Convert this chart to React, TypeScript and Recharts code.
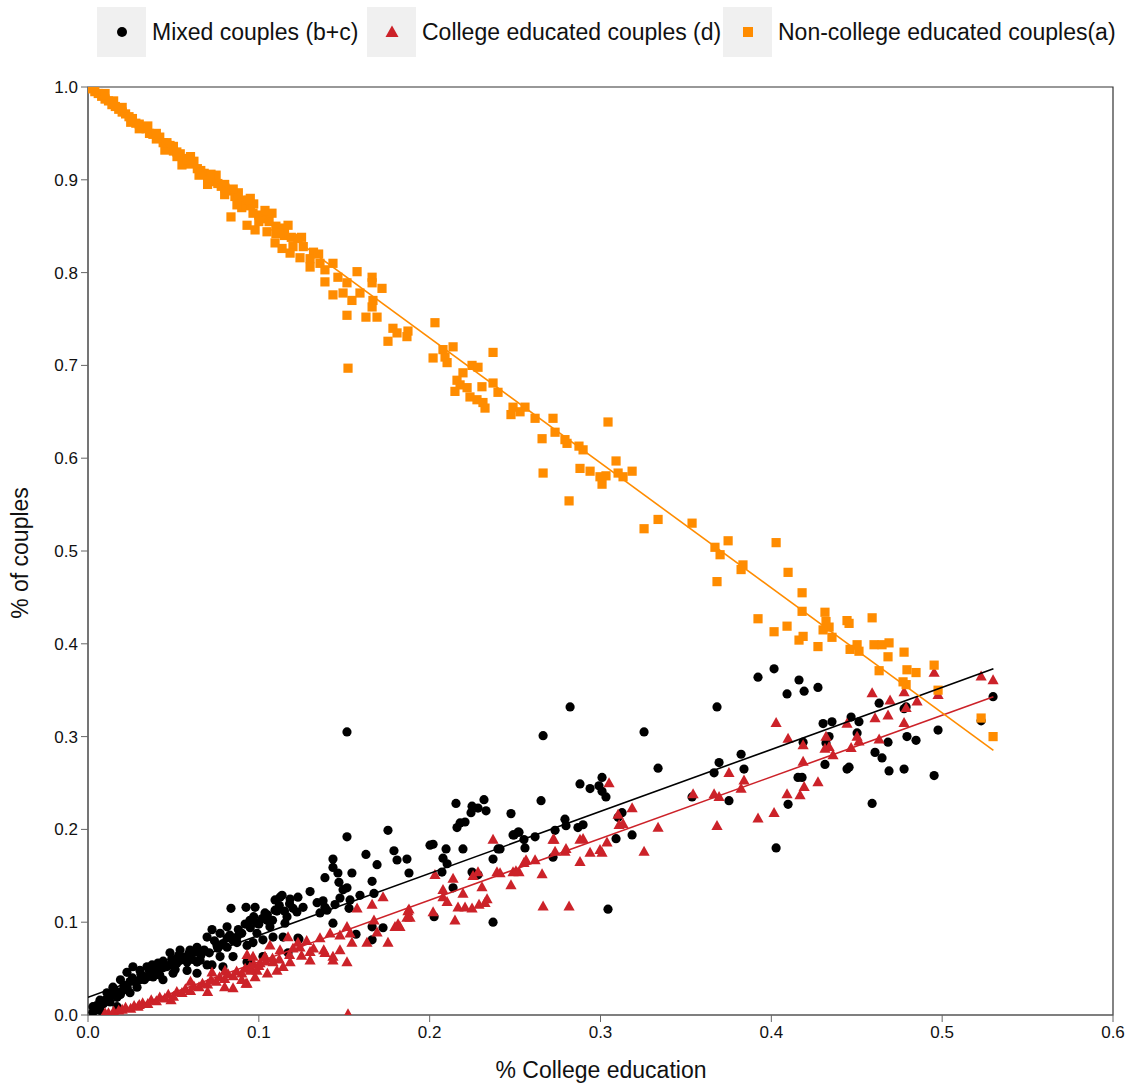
import React from "react";
import {
  ComposedChart,
  Scatter,
  XAxis,
  YAxis,
  ReferenceArea,
} from "recharts";

// share of college educated people vs share of couples by type
const nonCollegePts: [number, number][] = [
  [0.002, 0.998], [0.004, 0.995], [0.006, 0.993], [0.008, 0.99], [0.01, 0.987], [0.012, 0.985],
  [0.014, 0.981], [0.016, 0.979], [0.018, 0.976], [0.02, 0.973], [0.022, 0.971], [0.024, 0.968],
  [0.026, 0.966], [0.028, 0.961], [0.03, 0.96], [0.032, 0.957], [0.034, 0.955], [0.036, 0.95],
  [0.038, 0.949], [0.04, 0.944], [0.042, 0.946], [0.044, 0.94], [0.046, 0.938], [0.048, 0.937],
  [0.05, 0.931], [0.052, 0.93], [0.054, 0.928], [0.056, 0.921], [0.058, 0.923], [0.06, 0.917],
  [0.062, 0.92], [0.064, 0.912], [0.066, 0.91], [0.068, 0.907], [0.07, 0.903], [0.072, 0.906],
  [0.074, 0.898], [0.076, 0.896], [0.078, 0.893], [0.08, 0.895], [0.082, 0.888], [0.086, 0.882],
  [0.088, 0.886], [0.09, 0.878], [0.092, 0.875], [0.095, 0.872], [0.097, 0.874], [0.1, 0.862],
  [0.102, 0.858], [0.106, 0.855], [0.11, 0.85], [0.115, 0.84], [0.119, 0.838], [0.126, 0.828],
  [0.132, 0.822], [0.01, 0.993], [0.015, 0.985], [0.02, 0.978], [0.025, 0.962], [0.03, 0.955],
  [0.035, 0.958], [0.04, 0.95], [0.045, 0.932], [0.05, 0.936], [0.055, 0.916], [0.06, 0.925],
  [0.065, 0.905], [0.07, 0.895], [0.075, 0.905], [0.08, 0.884], [0.085, 0.89], [0.09, 0.87],
  [0.095, 0.88], [0.1, 0.855], [0.105, 0.862], [0.11, 0.842], [0.115, 0.848], [0.12, 0.828],
  [0.125, 0.838], [0.13, 0.815], [0.135, 0.82],
  [0.0462, 0.94], [0.0521, 0.925], [0.058, 0.921], [0.0714, 0.902], [0.0802, 0.891],
  [0.0937, 0.878], [0.0837, 0.86], [0.0872, 0.873], [0.0966, 0.864], [0.1036, 0.867], [0.1077, 0.864],
  [0.0931, 0.851], [0.0978, 0.846], [0.1048, 0.844], [0.1124, 0.843], [0.1171, 0.851], [0.1095, 0.832],
  [0.1136, 0.826], [0.1183, 0.821], [0.1229, 0.837], [0.1241, 0.816], [0.13, 0.806], [0.1358, 0.81],
  [0.1434, 0.81], [0.1387, 0.803], [0.1387, 0.79], [0.1463, 0.795], [0.1516, 0.789], [0.1575, 0.801],
  [0.1493, 0.778], [0.1434, 0.776], [0.1592, 0.778], [0.1545, 0.77], [0.1663, 0.795], [0.1663, 0.789],
  [0.1721, 0.783], [0.1668, 0.77], [0.1663, 0.763], [0.1516, 0.754], [0.1627, 0.752], [0.1692, 0.752],
  [0.1522, 0.697], [0.1785, 0.74], [0.1809, 0.735], [0.1873, 0.737], [0.1756, 0.726], [0.1867, 0.731],
  [0.2031, 0.746], [0.2078, 0.717], [0.2137, 0.72], [0.209, 0.709], [0.202, 0.708], [0.2102, 0.703],
  [0.2248, 0.7], [0.2283, 0.698], [0.2195, 0.692], [0.2371, 0.714], [0.216, 0.684], [0.2178, 0.679],
  [0.2148, 0.672], [0.2219, 0.676], [0.2236, 0.666], [0.2277, 0.663], [0.2312, 0.66], [0.2324, 0.654],
  [0.2306, 0.677], [0.2371, 0.681], [0.24, 0.671], [0.2488, 0.655], [0.2558, 0.655], [0.2529, 0.65],
  [0.2476, 0.647], [0.2617, 0.643], [0.2722, 0.643], [0.2658, 0.621], [0.2734, 0.628], [0.2792, 0.62],
  [0.2804, 0.616], [0.2664, 0.584], [0.2874, 0.613], [0.2898, 0.609], [0.3044, 0.639], [0.2816, 0.554],
  [0.288, 0.589], [0.2939, 0.586], [0.2997, 0.58], [0.3009, 0.572], [0.3032, 0.581], [0.3091, 0.597],
  [0.3103, 0.584], [0.3132, 0.58], [0.3185, 0.586], [0.3255, 0.524], [0.3337, 0.534], [0.3536, 0.53],
  [0.367, 0.504], [0.37, 0.496], [0.3747, 0.511], [0.3682, 0.467], [0.3834, 0.485], [0.3823, 0.48],
  [0.4028, 0.509], [0.4098, 0.477], [0.418, 0.455], [0.418, 0.435], [0.3922, 0.427], [0.4016, 0.413],
  [0.4092, 0.419], [0.4162, 0.404], [0.4186, 0.408], [0.4273, 0.397], [0.4314, 0.434], [0.432, 0.424],
  [0.4338, 0.418], [0.4303, 0.415], [0.4355, 0.407], [0.4443, 0.425], [0.4455, 0.422], [0.459, 0.428],
  [0.4461, 0.394], [0.4502, 0.399], [0.4513, 0.392], [0.4601, 0.399], [0.4648, 0.399], [0.4689, 0.401],
  [0.4683, 0.386], [0.4631, 0.371], [0.4777, 0.391], [0.4794, 0.372], [0.4847, 0.369], [0.4771, 0.359],
  [0.4789, 0.356], [0.4953, 0.377], [0.4976, 0.35], [0.5228, 0.32], [0.5298, 0.3],
];

const mixedPts: [number, number][] = [
  [0.1516, 0.305], [0.2822, 0.332], [0.2664, 0.301], [0.3255, 0.305], [0.3682, 0.332], [0.3922, 0.364],
  [0.4016, 0.373], [0.4092, 0.346], [0.4162, 0.361], [0.4192, 0.349], [0.4273, 0.353], [0.3337, 0.266],
  [0.288, 0.249], [0.2939, 0.244], [0.2991, 0.247], [0.3009, 0.256], [0.3009, 0.241], [0.3032, 0.235],
  [0.2652, 0.231], [0.2476, 0.217], [0.2523, 0.197], [0.2494, 0.194], [0.2552, 0.189], [0.2617, 0.192],
  [0.2558, 0.18], [0.2412, 0.179], [0.2734, 0.199], [0.2792, 0.211], [0.2798, 0.204], [0.2868, 0.202],
  [0.2898, 0.205], [0.3103, 0.213], [0.3126, 0.218], [0.3091, 0.19], [0.3185, 0.194], [0.2722, 0.17],
  [0.3044, 0.114], [0.3536, 0.235], [0.3665, 0.261], [0.3694, 0.272], [0.3823, 0.281], [0.384, 0.265],
  [0.3752, 0.231], [0.4028, 0.18], [0.4098, 0.227], [0.4156, 0.256], [0.4186, 0.294], [0.418, 0.256],
  [0.4303, 0.314], [0.4355, 0.316], [0.4338, 0.3], [0.432, 0.293], [0.4314, 0.27], [0.4443, 0.265],
  [0.4455, 0.267], [0.4467, 0.321], [0.4513, 0.316], [0.4502, 0.304], [0.4631, 0.336], [0.4607, 0.283],
  [0.4648, 0.277], [0.4683, 0.294], [0.4689, 0.263], [0.459, 0.228], [0.4777, 0.33], [0.4789, 0.332],
  [0.4794, 0.3], [0.4847, 0.296], [0.4777, 0.265], [0.4976, 0.307], [0.4953, 0.258], [0.5228, 0.317],
  [0.5298, 0.343], [0.2154, 0.228], [0.2178, 0.207], [0.216, 0.202], [0.2207, 0.208], [0.2242, 0.218],
  [0.2248, 0.225], [0.2283, 0.223], [0.2318, 0.232], [0.233, 0.22], [0.202, 0.184], [0.2096, 0.179],
  [0.2195, 0.179], [0.2078, 0.169], [0.2102, 0.163], [0.2072, 0.154], [0.2248, 0.154], [0.2283, 0.151],
  [0.2371, 0.1], [0.2026, 0.106], [0.2137, 0.137], [0.2371, 0.168], [0.24, 0.179], [0.2488, 0.194],
  [0.2517, 0.197], [0.1516, 0.192], [0.1756, 0.199], [0.1627, 0.173], [0.1791, 0.177], [0.1809, 0.167],
  [0.1867, 0.168], [0.1692, 0.162], [0.1879, 0.153], [0.2002, 0.183], [0.1434, 0.168], [0.1434, 0.159],
  [0.1463, 0.153], [0.1387, 0.148], [0.1545, 0.153], [0.1469, 0.143], [0.1516, 0.137], [0.1493, 0.135],
  [0.1663, 0.144], [0.1674, 0.131], [0.1592, 0.129], [0.1528, 0.115], [0.1663, 0.095], [0.1727, 0.094],
  [0.1569, 0.087], [0.1663, 0.081], [0.13, 0.133], [0.1341, 0.121], [0.12, 0.115], [0.1259, 0.116],
  [0.1136, 0.129], [0.1095, 0.124], [0.1095, 0.113], [0.1358, 0.11], [0.1387, 0.116], [0.1376, 0.123],
  [0.1229, 0.127], [0.1183, 0.125], [0.1124, 0.127], [0.1399, 0.113], [0.1446, 0.119], [0.1475, 0.126],
  [0.1534, 0.124], [0.1223, 0.111], [0.1229, 0.083], [0.0925, 0.116], [0.0978, 0.116], [0.0837, 0.115],
  [0.1036, 0.11], [0.1106, 0.112], [0.1165, 0.106], [0.0948, 0.102], [0.0989, 0.099], [0.1048, 0.102],
  [0.1065, 0.095], [0.1153, 0.099], [0.1434, 0.099], [0.1235, 0.082], [0.1142, 0.084], [0.1083, 0.084],
  [0.0989, 0.088], [0.0966, 0.078], [0.1024, 0.081], [0.0937, 0.059], [0.1171, 0.067], [0.1024, 0.063],
  [0.0814, 0.095], [0.0726, 0.092], [0.0697, 0.084], [0.0773, 0.088], [0.0814, 0.083], [0.0872, 0.084],
  [0.0755, 0.075], [0.0814, 0.073], [0.0872, 0.078], [0.0931, 0.075], [0.0726, 0.054], [0.079, 0.052],
  [0.0849, 0.063], [0.0773, 0.063], [0.0931, 0.057], [0.048, 0.067], [0.0539, 0.07], [0.0597, 0.07],
  [0.0638, 0.073], [0.0521, 0.056], [0.058, 0.057], [0.0638, 0.057], [0.0656, 0.059], [0.0697, 0.054],
  [0.0439, 0.051], [0.0498, 0.045], [0.058, 0.048], [0.0638, 0.045], [0.0228, 0.046], [0.0263, 0.052],
  [0.0304, 0.048], [0.0345, 0.052], [0.0375, 0.054], [0.041, 0.056], [0.0439, 0.038], [0.0304, 0.038],
  [0.0246, 0.036], [0.0345, 0.041], [0.0381, 0.041], [0.0146, 0.03], [0.0111, 0.024], [0.007, 0.016],
  [0.0029, 0.009], [0.017, 0.019], [0.0205, 0.027], [0.0129, 0.014], [0.007, 0.005], [0.0029, 0.003],
  [0.017, 0.009], [0.0246, 0.024], [0.0287, 0.03], [0.048, 0.054], [0.054, 0.059], [0.042, 0.043],
  [0.019, 0.038], [0.01, 0.016], [0.005, 0.01], [0.009, 0.012], [0.013, 0.02], [0.016, 0.026],
  [0.019, 0.022], [0.021, 0.032], [0.023, 0.029], [0.026, 0.04], [0.028, 0.035], [0.031, 0.044],
  [0.033, 0.038], [0.036, 0.047], [0.039, 0.05], [0.041, 0.046], [0.044, 0.058], [0.046, 0.052],
  [0.049, 0.06], [0.051, 0.049], [0.053, 0.064], [0.056, 0.062], [0.059, 0.066], [0.061, 0.06],
  [0.063, 0.068], [0.066, 0.064], [0.068, 0.07], [0.071, 0.067], [0.074, 0.08], [0.076, 0.072],
  [0.079, 0.077], [0.083, 0.086], [0.085, 0.08], [0.088, 0.092], [0.09, 0.088], [0.092, 0.098],
  [0.095, 0.094], [0.097, 0.106], [0.1, 0.098], [0.102, 0.104], [0.105, 0.108], [0.108, 0.102],
  [0.112, 0.118], [0.115, 0.112], [0.118, 0.12],
];

const collegePts: [number, number][] = [
  [0.1522, 0.001], [0.4028, 0.315], [0.4098, 0.298], [0.4186, 0.291], [0.4186, 0.273], [0.4092, 0.238],
  [0.4168, 0.237], [0.4192, 0.246], [0.4273, 0.251], [0.3752, 0.261], [0.3665, 0.238], [0.3694, 0.235],
  [0.3823, 0.244], [0.384, 0.253], [0.3922, 0.212], [0.4016, 0.218], [0.432, 0.3], [0.4338, 0.289],
  [0.4361, 0.28], [0.4314, 0.287], [0.4443, 0.314], [0.4467, 0.288], [0.4502, 0.3], [0.4513, 0.295],
  [0.459, 0.347], [0.4607, 0.32], [0.4631, 0.297], [0.4683, 0.323], [0.4695, 0.339], [0.4777, 0.348],
  [0.4777, 0.315], [0.4789, 0.331], [0.4853, 0.338], [0.4953, 0.369], [0.4976, 0.345], [0.5228, 0.365],
  [0.5298, 0.361], [0.305, 0.25], [0.3185, 0.223], [0.3103, 0.216], [0.3109, 0.205], [0.3132, 0.206],
  [0.3337, 0.202], [0.3255, 0.176], [0.3542, 0.238], [0.3682, 0.204], [0.2728, 0.189], [0.2798, 0.179],
  [0.2792, 0.176], [0.2734, 0.176], [0.288, 0.189], [0.2898, 0.19], [0.288, 0.165], [0.2939, 0.175],
  [0.2997, 0.178], [0.3009, 0.175], [0.3038, 0.186], [0.2476, 0.14], [0.2412, 0.153], [0.2488, 0.154],
  [0.2523, 0.154], [0.2552, 0.164], [0.2564, 0.167], [0.2617, 0.167], [0.2658, 0.152], [0.2664, 0.117],
  [0.2816, 0.117], [0.2371, 0.189], [0.2394, 0.154], [0.2505, 0.155], [0.2722, 0.189], [0.2031, 0.151],
  [0.2137, 0.147], [0.2254, 0.15], [0.2283, 0.154], [0.2306, 0.138], [0.2078, 0.135], [0.2078, 0.127],
  [0.2102, 0.122], [0.2195, 0.131], [0.2166, 0.116], [0.2207, 0.116], [0.2248, 0.115], [0.2289, 0.119],
  [0.2324, 0.121], [0.2336, 0.125], [0.202, 0.111], [0.1873, 0.112], [0.1867, 0.105], [0.2148, 0.102],
  [0.1826, 0.095], [0.1575, 0.115], [0.1663, 0.119], [0.1727, 0.127], [0.1674, 0.102], [0.1692, 0.089],
  [0.1756, 0.078], [0.1797, 0.095], [0.1815, 0.098], [0.1879, 0.114], [0.1885, 0.105], [0.1171, 0.084],
  [0.1229, 0.078], [0.1358, 0.083], [0.1417, 0.088], [0.1475, 0.086], [0.1516, 0.095], [0.1534, 0.088],
  [0.1545, 0.078], [0.1633, 0.078], [0.1475, 0.07], [0.1434, 0.063], [0.1387, 0.067], [0.13, 0.068],
  [0.1241, 0.073], [0.1183, 0.057], [0.13, 0.059], [0.1434, 0.059], [0.1516, 0.057], [0.1065, 0.075],
  [0.1124, 0.07], [0.1036, 0.063], [0.1083, 0.057], [0.1007, 0.056], [0.0989, 0.048], [0.1106, 0.048],
  [0.1142, 0.052], [0.0931, 0.065], [0.0966, 0.063], [0.0948, 0.052], [0.0978, 0.041], [0.0931, 0.034],
  [0.0849, 0.029], [0.0925, 0.034], [0.0802, 0.048], [0.0726, 0.046], [0.0486, 0.016], [0.0293, 0.009],
  [0.01, 0.002], [0.012, 0.002], [0.015, 0.004], [0.018, 0.005], [0.02, 0.006], [0.022, 0.008],
  [0.025, 0.007], [0.027, 0.01], [0.03, 0.011], [0.032, 0.013], [0.035, 0.012], [0.037, 0.016],
  [0.04, 0.015], [0.042, 0.019], [0.045, 0.018], [0.047, 0.022], [0.05, 0.02], [0.052, 0.025],
  [0.055, 0.024], [0.057, 0.028], [0.06, 0.026], [0.062, 0.031], [0.065, 0.03], [0.067, 0.034],
  [0.07, 0.033], [0.072, 0.038], [0.075, 0.036], [0.077, 0.041], [0.08, 0.039], [0.082, 0.044],
  [0.085, 0.042], [0.087, 0.047], [0.09, 0.045], [0.092, 0.05], [0.095, 0.048], [0.097, 0.055],
  [0.1, 0.053], [0.104, 0.058], [0.108, 0.061], [0.06, 0.036], [0.07, 0.025], [0.08, 0.03],
  [0.09, 0.038], [0.105, 0.045], [0.112, 0.06], [0.118, 0.065], [0.125, 0.064], [0.132, 0.072],
  [0.138, 0.07], [0.12, 0.072], [0.128, 0.08],
];

// linear fits: [intercept, slope, xFrom, xTo]
const fitMixed = [0.019, 0.668, 0, 0.53];
const fitCollege = [-0.009, 0.664, 0.0136, 0.53];
const fitNonCollege = [0.999, -1.347, 0, 0.53];

const xTicks = [0, 0.1, 0.2, 0.3, 0.4, 0.5, 0.6];
const yTicks = [0, 0.1, 0.2, 0.3, 0.4, 0.5, 0.6, 0.7, 0.8, 0.9, 1.0];

const BLACK = "#000000";
const RED = "#cc2229";
const ORANGE = "#ff8c00";
const FONT = "'Liberation Sans', Arial, sans-serif";

const toRows = (pts: [number, number][]) => pts.map(([x, y]) => ({ x, y }));
const fitRows = (f: number[]) => [
  { x: f[2], y: f[0] + f[1] * f[2] },
  { x: f[3], y: f[0] + f[1] * f[3] },
];

const DotShape = (p: any) => <circle cx={p.cx} cy={p.cy} r={4.6} fill={BLACK} />;
const TriShape = (p: any) => (
  <polygon
    points={`${p.cx},${p.cy - 5.8} ${p.cx - 5.6},${p.cy + 4.2} ${p.cx + 5.6},${p.cy + 4.2}`}
    fill={RED}
  />
);
const SquareShape = (p: any) => (
  <rect x={p.cx - 4.6} y={p.cy - 4.6} width={9.2} height={9.2} fill={ORANGE} />
);
const NoShape = () => <g />;

const legendItems = [
  { label: "Mixed couples (b+c)", left: 97, kind: "dot" },
  { label: "College educated couples (d)", left: 367, kind: "tri" },
  { label: "Non-college educated couples(a)", left: 723, kind: "square" },
];

function LegendMark({ kind }: { kind: string }) {
  return (
    <svg width={20} height={20}>
      {kind === "dot" && <circle cx={10} cy={10} r={5} fill={BLACK} />}
      {kind === "tri" && <polygon points="10,3.5 3.5,15 16.5,15" fill={RED} />}
      {kind === "square" && <rect x={5} y={5} width={10} height={10} fill={ORANGE} />}
    </svg>
  );
}

export default function App() {
  return (
    <div
      style={{
        position: "absolute",
        left: 0,
        top: 0,
        width: 1131,
        height: 1086,
        background: "#fff",
        fontFamily: FONT,
        color: "#111",
      }}
    >
      {legendItems.map((it) => (
        <div
          key={it.label}
          style={{ position: "absolute", left: it.left, top: 7, height: 50, display: "flex", alignItems: "center" }}
        >
          <div
            style={{
              width: 49,
              height: 50,
              background: "#f0f0f0",
              display: "flex",
              alignItems: "center",
              justifyContent: "center",
            }}
          >
            <LegendMark kind={it.kind} />
          </div>
          <span style={{ marginLeft: 6, fontSize: 23 }}>{it.label}</span>
        </div>
      ))}

      <ComposedChart
        width={1131}
        height={1086}
        margin={{ top: 87, right: 18, bottom: 21, left: 28 }}
      >
        <XAxis
          type="number"
          dataKey="x"
          domain={[0, 0.6]}
          ticks={xTicks}
          tickFormatter={(v: number) => v.toFixed(1)}
          height={50}
          tickSize={7}
          tickMargin={4}
          stroke="#666"
          tick={{ fill: "#111", fontSize: 17, fontFamily: FONT }}
          allowDataOverflow
        />
        <YAxis
          type="number"
          dataKey="y"
          domain={[0, 1]}
          ticks={yTicks}
          tickFormatter={(v: number) => v.toFixed(1)}
          width={60}
          tickSize={7}
          tickMargin={3}
          stroke="#666"
          tick={{ fill: "#111", fontSize: 17, fontFamily: FONT }}
          allowDataOverflow
        />
        <Scatter data={toRows(mixedPts)} shape={DotShape} isAnimationActive={false} />
        <Scatter data={toRows(collegePts)} shape={TriShape} isAnimationActive={false} />
        <Scatter data={toRows(nonCollegePts)} shape={SquareShape} isAnimationActive={false} />
        <Scatter
          data={fitRows(fitMixed)}
          line={{ stroke: BLACK, strokeWidth: 1.6 }}
          shape={NoShape}
          isAnimationActive={false}
        />
        <Scatter
          data={fitRows(fitCollege)}
          line={{ stroke: RED, strokeWidth: 1.6 }}
          shape={NoShape}
          isAnimationActive={false}
        />
        <Scatter
          data={fitRows(fitNonCollege)}
          line={{ stroke: ORANGE, strokeWidth: 1.6 }}
          shape={NoShape}
          isAnimationActive={false}
        />
        <ReferenceArea x1={0} x2={0.6} y1={0} y2={1} fill="none" stroke="#333" strokeWidth={1.2} />
      </ComposedChart>

      <div
        style={{
          position: "absolute",
          left: 0,
          width: 1202,
          top: 1057,
          textAlign: "center",
          fontSize: 23,
        }}
      >
        % College education
      </div>
      <div
        style={{
          position: "absolute",
          left: 20,
          top: 553,
          fontSize: 23,
          whiteSpace: "nowrap",
          transform: "translate(-50%, -50%) rotate(-90deg)",
        }}
      >
        % of couples
      </div>
    </div>
  );
}
